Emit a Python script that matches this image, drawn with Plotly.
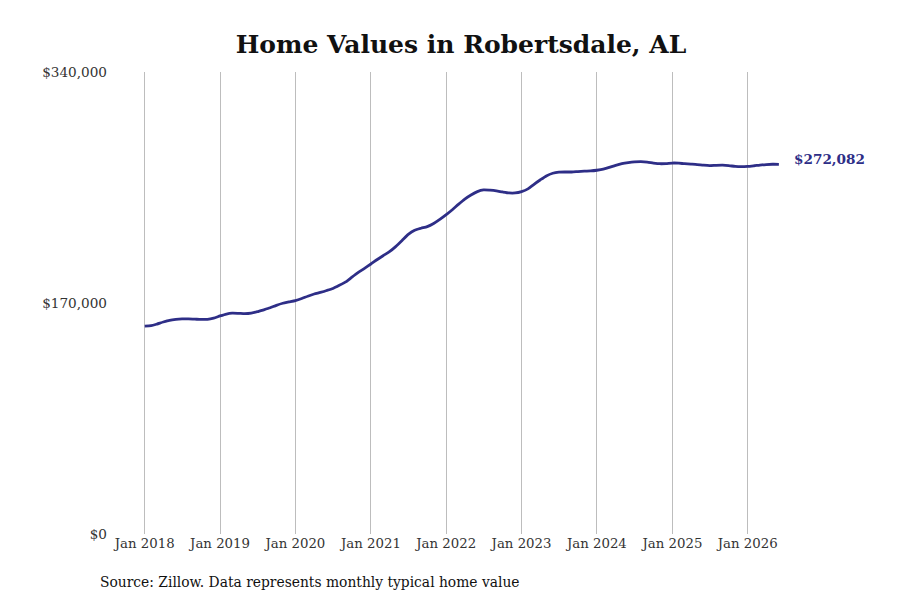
import plotly.graph_objects as go
import pandas as pd

dates = pd.date_range("2018-01-01", periods=102, freq="MS").strftime("%Y-%m-%d").tolist()
values = [
    153000, 153300, 154500, 156000, 157300, 158000, 158300, 158300, 158100, 157900, 158000, 158900,
    160500, 161900, 162500, 162400, 162200, 162600, 163600, 165000, 166500, 168300, 169800, 170800,
    171800, 173300, 175000, 176600, 177800, 179200, 180700, 183000, 185500, 189000, 192500, 195500,
    198700, 202000, 204800, 207800, 211500, 216000, 220500, 223500, 225000, 226200, 228500, 231500,
    235000, 238800, 242600, 246500, 249500, 252000, 253200, 253000, 252500, 251700, 251000, 251000,
    252000, 254000, 257200, 260500, 263500, 265500, 266300, 266400, 266400, 266700, 267000, 267200,
    267700, 268500, 269800, 271300, 272500, 273300, 273800, 274000, 273700, 273000, 272500, 272600,
    273000, 272900, 272500, 272200, 271900, 271400, 271100, 271300, 271400, 271100, 270500, 270300,
    270500, 271000, 271500, 271900, 272100, 272082,
]
tick_dates = ["2018-01-01", "2019-01-01", "2020-01-01", "2021-01-01", "2022-01-01",
              "2023-01-01", "2024-01-01", "2025-01-01", "2026-01-01"]
tick_labels = ["Jan 2018", "Jan 2019", "Jan 2020", "Jan 2021", "Jan 2022",
               "Jan 2023", "Jan 2024", "Jan 2025", "Jan 2026"]
y_ticks = [0, 170000, 340000]
y_labels = ["$0", "$170,000", "$340,000"]
title_text = "Home Values in Robertsdale, AL"
source_text = "Source: Zillow. Data represents monthly typical home value"
end_label = "$272,082"

LINE = "#2e2e87"
FONT = "DejaVu Serif"

fig = go.Figure()
fig.add_trace(go.Scatter(
    x=dates, y=values, mode="lines",
    line=dict(color=LINE, width=2.8, shape="spline", smoothing=0.6),
    hoverinfo="x+y",
))

fig.add_annotation(
    x=dates[-1], y=values[-1], text=f"<b>{end_label}</b>", showarrow=False,
    xanchor="left", yanchor="middle", xshift=13, yshift=5,
    font=dict(family=FONT, size=13.6, color=LINE),
)
fig.add_annotation(
    xref="paper", yref="paper", x=(98 - 108) / 772, y=(534 - 582) / 462,
    text=source_text, showarrow=False, xanchor="left", yanchor="middle",
    font=dict(family=FONT, size=13.85, color="#111111"),
)

fig.update_layout(
    width=900, height=600,
    margin=dict(l=100, r=28, t=64, b=74),
    paper_bgcolor="white", plot_bgcolor="white",
    showlegend=False,
    title=dict(text=f"<b>{title_text}</b>", x=453 / 900, xanchor="center",
               y=1 - 36 / 600, yanchor="middle",
               font=dict(family=FONT, size=25, color="#111111")),
    font=dict(family=FONT, size=13.5, color="#333333"),
)
fig.update_xaxes(
    type="date", range=["2017-07-07", "2027-10-04"],
    tickvals=tick_dates, ticktext=tick_labels,
    showgrid=True, gridcolor="#bdbdbd", gridwidth=1,
    showline=False, zeroline=False, ticks="",
    tickfont=dict(family=FONT, size=13.3, color="#333333"),
)
fig.update_yaxes(
    range=[0, 340000], tickvals=y_ticks, ticktext=y_labels,
    showgrid=False, showline=False, zeroline=False, ticks="",
    tickfont=dict(family=FONT, size=13.6, color="#333333"),
)

fig.write_html("out.html")
